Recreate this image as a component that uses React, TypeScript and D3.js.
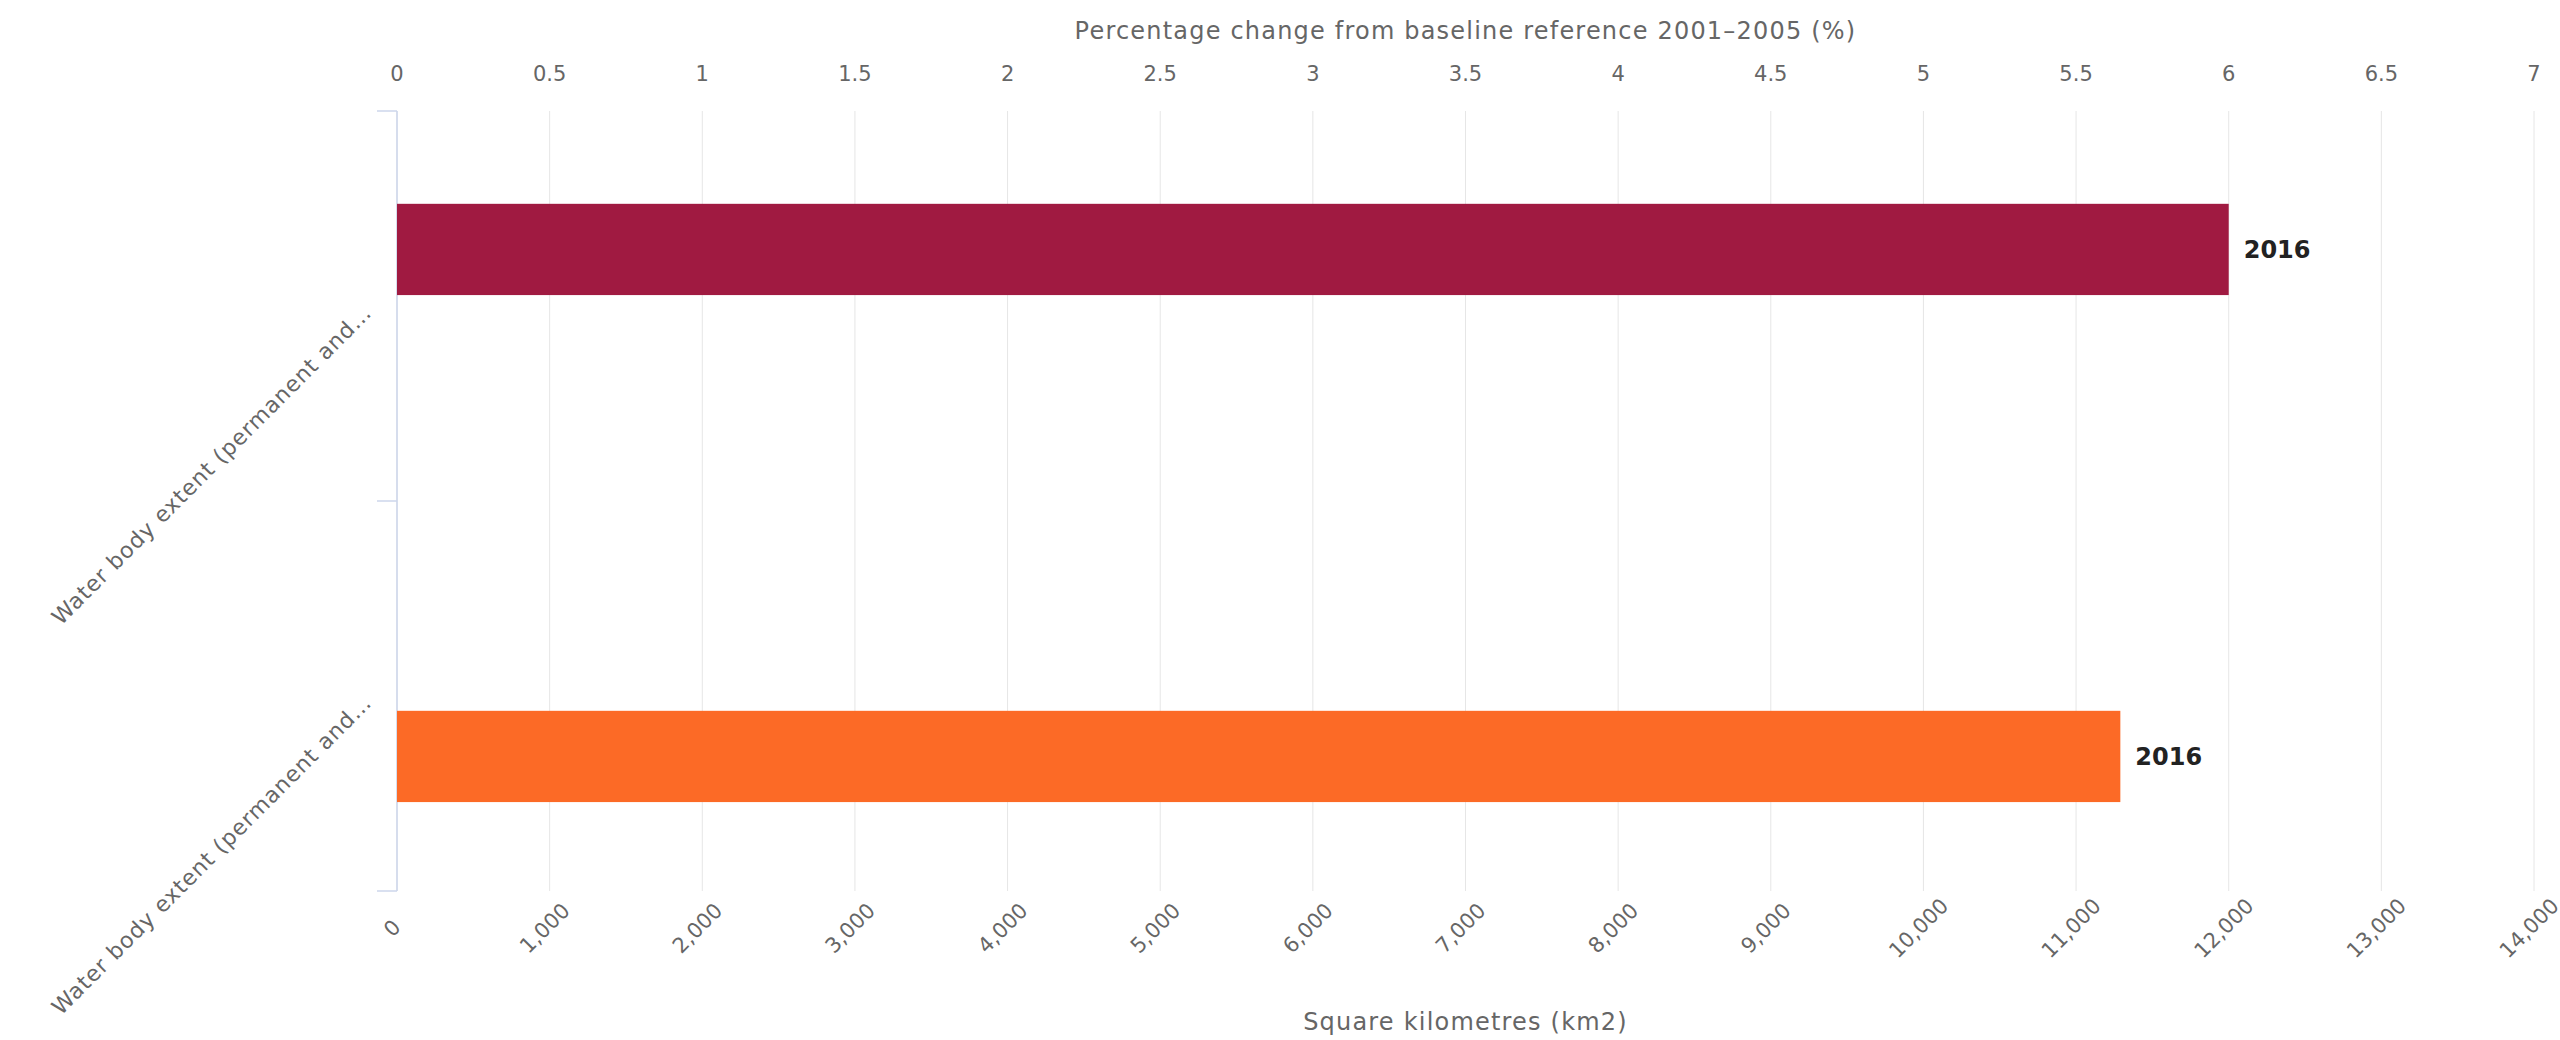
import { useEffect } from "react";
import * as d3 from "d3";

// categories on the vertical axis (labels are cut off in the source chart)
const categories = [
  "Water body extent (permanent and…",
  "Water body extent (permanent and…",
];
const seriesKeys = ["pct", "km2"];
// one value per category; null where the series has no bar
const pctValues: (number | null)[] = [6.0, null];
const kmValues: (number | null)[] = [null, 11290];
const barLabels = ["2016", "2016"];
const seriesColors = ["#a01a41", "#fc6a26"];

const pctTicks = [0, 0.5, 1, 1.5, 2, 2.5, 3, 3.5, 4, 4.5, 5, 5.5, 6, 6.5, 7];
const kmTicks = d3.range(0, 14001, 1000);

const topTitle = "Percentage change from baseline reference 2001–2005 (%)";
const bottomTitle = "Square kilometres (km2)";

const W = 2560;
const H = 1040;
const M = { top: 111, right: 26, bottom: 149, left: 397 };
const FONT = "'DejaVu Sans', 'Lucida Grande', sans-serif";

export default function App() {
  useEffect(() => {
    document.body.style.margin = "0";
  }, []);

  const x0 = M.left;
  const x1 = W - M.right;
  const y0 = M.top;
  const y1 = H - M.bottom;

  const xPct = d3.scaleLinear().domain([0, 7]).range([x0, x1]);
  const xKm = d3.scaleLinear().domain([0, 14000]).range([x0, x1]);
  const y = d3
    .scaleBand<number>()
    .domain(categories.map((_c, i) => i))
    .range([y0, y1])
    .padding(0);
  const bw = y.bandwidth();
  // highcharts-style grouping: 0.2 group padding, 0.1 point padding
  const inner = d3
    .scaleBand<string>()
    .domain(seriesKeys)
    .range([0.205 * bw, 0.805 * bw])
    .paddingInner(0.22)
    .paddingOuter(0.11);

  const bars = [
    ...pctValues.map((v, i) => ({ v, i, key: "pct", sx: xPct, color: seriesColors[0] })),
    ...kmValues.map((v, i) => ({ v, i, key: "km2", sx: xKm, color: seriesColors[1] })),
  ].filter((d) => d.v != null);

  const boundaries = [...categories.map((_c, i) => y(i)!), y1];

  return (
    <svg width={W} height={H} style={{ display: "block", background: "#fff" }} fontFamily={FONT}>
      {/* vertical gridlines */}
      {kmTicks.map((t) => (
        <line key={t} x1={xKm(t)} x2={xKm(t)} y1={y0} y2={y1} stroke="#e6e6e6" strokeWidth={1} />
      ))}

      {/* category axis */}
      <line x1={x0} x2={x0} y1={y0} y2={y1} stroke="#ccd6eb" strokeWidth={1.5} />
      {boundaries.map((b, i) => (
        <line key={i} x1={x0 - 20} x2={x0} y1={b} y2={b} stroke="#ccd6eb" strokeWidth={1.5} />
      ))}
      {categories.map((c, i) => {
        const cy = y(i)! + bw / 2;
        return (
          <text
            key={i}
            transform={`translate(${x0 - 24},${cy + 8}) rotate(-45)`}
            textAnchor="end"
            fontSize={22}
            letterSpacing={0.9}
            fill="#666"
          >
            {c}
          </text>
        );
      })}

      {/* bars */}
      {bars.map((d, k) => {
        const by = y(d.i)! + inner(d.key)!;
        const bh = inner.bandwidth();
        const end = d.sx(d.v as number);
        return (
          <g key={k}>
            <rect x={x0} y={by} width={end - x0} height={bh} fill={d.color} />
            <text
              x={end + 15}
              y={by + bh / 2 + 9}
              fontSize={24}
              fontWeight="bold"
              fill="#222"
            >
              {barLabels[d.i]}
            </text>
          </g>
        );
      })}

      {/* top axis: percentage */}
      {pctTicks.map((t) => (
        <text key={t} x={xPct(t)} y={81} textAnchor="middle" fontSize={21} fill="#666">
          {String(t)}
        </text>
      ))}
      <text
        x={(x0 + x1) / 2}
        y={39}
        textAnchor="middle"
        fontSize={24}
        letterSpacing={1.2}
        fill="#666"
      >
        {topTitle}
      </text>

      {/* bottom axis: square km, rotated labels centred under each tick */}
      {kmTicks.map((t) => (
        <text
          key={t}
          transform={`translate(${xKm(t) - 5},${y1 + 37}) rotate(-45)`}
          textAnchor="middle"
          dy="0.35em"
          fontSize={21}
          fill="#666"
        >
          {d3.format(",")(t)}
        </text>
      ))}
      <text
        x={(x0 + x1) / 2}
        y={1030}
        textAnchor="middle"
        fontSize={24}
        letterSpacing={1.2}
        fill="#666"
      >
        {bottomTitle}
      </text>
    </svg>
  );
}
